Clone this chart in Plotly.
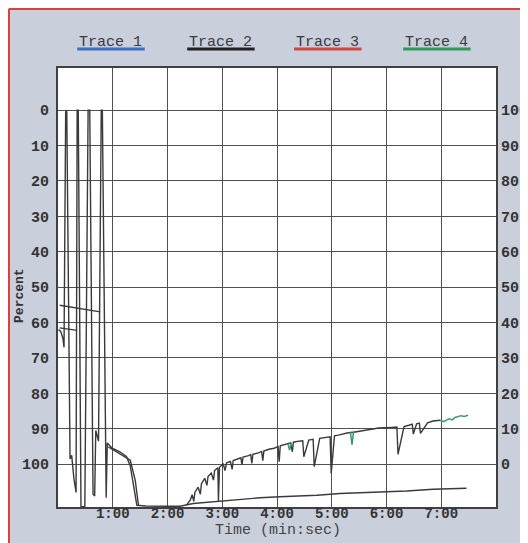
import plotly.graph_objects as go

# ---------------- data ----------------
minute_ticks = [1, 2, 3, 4, 5, 6, 7]
minute_labels = ["1:00", "2:00", "3:00", "4:00", "5:00", "6:00", "7:00"]
pct_ticks = [0, 10, 20, 30, 40, 50, 60, 70, 80, 90, 100]
pct_left_labels = [str(v) for v in pct_ticks]
pct_right_labels = ["100", "90", "80", "70", "60", "50", "40", "30", "20", "10", "0"]
legend_names = ["Trace 1", "Trace 2", "Trace 3", "Trace 4"]
legend_colors = ["#3a6fc4", "#222222", "#d4453d", "#2e9a55"]

# early oscillation, plateau, flat bottom and slow lower line (minutes, percent)
main_t = [0.01, 0.05, 0.09, 0.11, 0.14, 0.16, 0.22, 0.25, 0.29, 0.33, 0.35, 0.37,
          0.42, 0.49, 0.55, 0.58, 0.64, 0.67, 0.69, 0.74, 0.79, 0.81, 0.88, 0.90,
          0.99, 1.13, 1.25, 1.32, 1.44, 1.60, 2.00, 2.23, 2.47, 2.90, 3.26, 3.69,
          4.05, 4.73, 5.15, 5.52, 6.00, 6.37, 6.85, 7.46]
main_v = [62.0, 62.5, 64.5, 67.0, 0.5, 0.0, 98.5, 97.5, 104.0, 108.0, 0.0, 0.0,
          112.0, 112.0, 0.0, 0.0, 108.5, 109.0, 90.5, 93.5, 0.0, 0.0, 109.5, 94.0,
          95.5, 96.5, 97.8, 100.5, 111.6, 111.8, 111.9, 111.9, 111.1, 110.5, 110.0, 109.5,
          109.2, 108.8, 108.3, 108.0, 107.8, 107.6, 107.1, 106.8]

# second (double) plateau line
plateau_t = [0.92, 1.16, 1.32, 1.41, 1.47]
plateau_v = [95.1, 97.5, 98.9, 104.5, 111.6]

# short near-horizontal lines at the start
upper_t = [0.03, 0.40, 0.77]
upper_v = [55.1, 56.0, 57.0]
mid_t = [0.03, 0.20, 0.35]
mid_v = [61.5, 61.8, 62.2]

# rising recovery curve with dips
rise_t = [2.35, 2.42, 2.45, 2.48, 2.50, 2.56, 2.60, 2.62, 2.68, 2.72, 2.74, 2.80,
          2.84, 2.86, 2.92, 2.93, 2.95, 3.02, 3.05, 3.08, 3.15, 3.18, 3.20, 3.28,
          3.34, 3.36, 3.38, 3.48, 3.52, 3.54, 3.56, 3.66, 3.72, 3.74, 3.76, 3.85,
          3.95, 4.02, 4.04, 4.06, 4.15, 4.25, 4.28, 4.30, 4.40, 4.47, 4.49, 4.58,
          4.66, 4.68, 4.78, 4.88, 4.97, 4.99, 5.05, 5.12, 5.20, 5.28, 5.40, 5.55,
          5.70, 5.80, 5.86, 6.10, 6.19, 6.21, 6.32, 6.41, 6.47, 6.49, 6.55, 6.60,
          6.62, 6.75, 6.85, 6.98]
rise_v = [111.5, 110.0, 108.6, 110.5, 108.0, 106.5, 108.5, 105.5, 104.0, 106.0, 103.5, 102.5,
          104.5, 101.8, 101.0, 110.5, 100.8, 100.0, 101.8, 99.6, 99.2, 101.5, 99.0, 98.6,
          98.2, 100.2, 98.0, 97.6, 97.3, 99.8, 97.2, 96.8, 96.4, 99.0, 96.3, 95.8,
          95.5, 95.0, 99.3, 94.8, 94.5, 94.0, 96.5, 93.8, 93.5, 93.4, 97.9, 93.2,
          93.0, 100.7, 92.7, 92.4, 92.3, 102.6, 92.0, 91.8, 91.4, 91.2, 91.0, 90.6,
          90.3, 90.0, 89.8, 89.6, 89.5, 97.2, 89.4, 89.0, 88.7, 91.5, 88.6, 88.4,
          91.3, 88.3, 87.8, 87.6, 87.6]

# green (Trace 4) visible pieces
green_t = [4.20, 4.23, 4.26, None, 5.34, 5.37, 5.40, None,
           6.98, 7.05, 7.10, 7.15, 7.20, 7.25, 7.30, 7.36, 7.42, 7.49]
green_v = [94.3, 96.0, 94.1, None, 90.8, 94.5, 90.6, None,
           87.6, 88.0, 87.5, 87.2, 87.5, 86.8, 86.6, 86.3, 86.5, 86.2]

# ---------------- figure ----------------
ink = "#3a3a3a"
mono = "Liberation Mono"
fig = go.Figure()

def add_line(t, v, color=ink, width=1.4):
    fig.add_trace(go.Scatter(x=t, y=v, mode="lines", line=dict(color=color, width=width),
                             showlegend=False, hoverinfo="skip", connectgaps=False))

add_line(main_t, main_v)
add_line(plateau_t, plateau_v)
add_line(upper_t, upper_v)
add_line(mid_t, mid_v)
add_line(rise_t, rise_v)
add_line(green_t, green_v, color="#3a9a6a", width=1.5)
# anchor trace for right axis
fig.add_trace(go.Scatter(x=[None], y=[None], yaxis="y2", showlegend=False, hoverinfo="skip"))

grid_col = "#505050"
tickfont = dict(family=mono, size=15, color="#333333", weight=700)
xtickfont = dict(family=mono, size=14, color="#333333", weight=700)
yrange = [112.1, -11.9]

PW, PH = 438, 439          # plot area size in px
ML, MT = 50, 60            # margins (page body adds 8px offset)
W, H = 528, 543

fig.update_layout(
    width=W, height=H,
    margin=dict(l=ML, r=W - ML - PW, t=MT, b=H - MT - PH, autoexpand=False),
    paper_bgcolor="#c9cfdb",
    plot_bgcolor="white",
    showlegend=False,
    xaxis=dict(range=[0, 8], tickvals=minute_ticks, ticktext=minute_labels,
               showgrid=True, gridcolor=grid_col, gridwidth=1.3, zeroline=False,
               showline=True, mirror=True, linecolor="#404040", linewidth=1.8,
               ticks="", tickfont=xtickfont, ticklabelstandoff=-8, automargin=False),
    yaxis=dict(range=yrange, tickvals=pct_ticks, ticktext=pct_left_labels,
               showgrid=True, gridcolor=grid_col, gridwidth=1.3, zeroline=False,
               showline=True, mirror=True, linecolor="#404040", linewidth=1.8,
               ticks="", tickfont=tickfont, ticklabelstandoff=4, automargin=False),
    yaxis2=dict(range=yrange, tickvals=pct_ticks, ticktext=pct_right_labels,
                overlaying="y", side="right", showgrid=False, zeroline=False,
                showline=False, ticks="", tickfont=tickfont, ticklabelstandoff=4,
                automargin=False),
)

# axis titles
fig.add_annotation(text="Percent", xref="paper", yref="paper", x=-0.0868, y=0.483,
                   textangle=-90, showarrow=False, xanchor="center", yanchor="middle",
                   font=dict(family=mono, size=13, color="#333333", weight=700))
fig.add_annotation(text="Time (min:sec)", xref="paper", yref="paper", x=0.502, y=-0.0545,
                   showarrow=False, xanchor="center", yanchor="middle",
                   font=dict(family=mono, size=15, color="#444444"))

# legend (text with coloured underline)
leg_x = [0.121, 0.372, 0.616, 0.865]
for name, col, lx in zip(legend_names, legend_colors, leg_x):
    fig.add_annotation(text=name, xref="paper", yref="paper", x=lx, y=1.059,
                       showarrow=False, xanchor="center", yanchor="middle",
                       font=dict(family=mono, size=15, color="#3a3a44"))
    fig.add_shape(type="line", xref="paper", yref="paper", x0=lx - 0.077, x1=lx + 0.077,
                  y0=1.0433, y1=1.0433, line=dict(color=col, width=3))

# red frame along the left and top edges of the figure
fx = (-ML + 1) / PW
fy = (PH + MT - 1) / PH
fig.add_shape(type="line", xref="paper", yref="paper", x0=fx, x1=fx, y0=-0.2, y1=fy,
              line=dict(color="#d9423a", width=2))
fig.add_shape(type="line", xref="paper", yref="paper", x0=fx, x1=1.2, y0=fy, y1=fy,
              line=dict(color="#d9423a", width=2))

fig.write_html("out.html")
